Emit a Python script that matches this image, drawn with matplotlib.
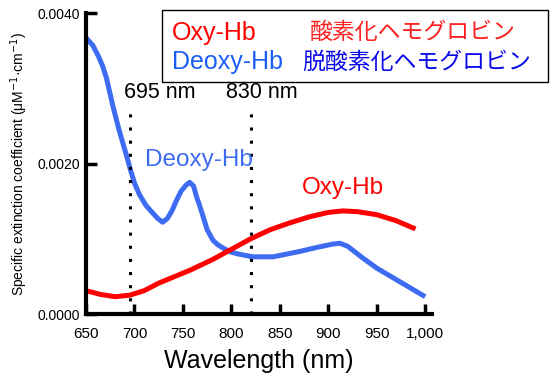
import matplotlib
matplotlib.use('Agg')
import matplotlib.pyplot as plt
from matplotlib.patches import Rectangle
from matplotlib.ticker import FuncFormatter

plt.rcParams['font.family'] = ['Liberation Sans', 'Noto Sans CJK JP', 'DejaVu Sans']

# Deoxy-Hb spectrum
deoxy_nm = [650, 657, 663, 667, 671, 678, 684, 691, 696, 700, 705, 712, 719,
            724, 729, 734, 739, 743, 748, 753, 757, 761, 764, 767, 770, 775,
            781, 786, 791, 798, 806, 822, 843, 870, 890, 905, 912, 920, 935,
            950, 975, 1000]
deoxy_val = [0.00367, 0.00357, 0.00342, 0.00330, 0.00314, 0.00275, 0.00245,
             0.00214, 0.00191, 0.00174, 0.00159, 0.00144, 0.00134, 0.00127,
             0.00122, 0.00127, 0.00138, 0.00150, 0.00163, 0.00171, 0.00175,
             0.00170, 0.00156, 0.00145, 0.00133, 0.00112, 0.00098, 0.00092,
             0.00088, 0.00083, 0.00080, 0.00076, 0.00076, 0.00083, 0.00089,
             0.00093, 0.00094, 0.00090, 0.00075, 0.00061, 0.00042, 0.00023]

# Oxy-Hb spectrum
oxy_nm = [650, 665, 680, 695, 710, 725, 740, 757, 780, 800, 820, 840, 860,
          880, 900, 915, 930, 950, 970, 990]
oxy_val = [0.00031, 0.00026, 0.00023, 0.00025, 0.00031, 0.00041, 0.00049,
           0.00058, 0.00072, 0.00086, 0.00100, 0.00112, 0.00121, 0.00129,
           0.00135, 0.00137, 0.00136, 0.00132, 0.00124, 0.00113]

markers_nm = [695, 820]
marker_labels = ['695 nm', '830 nm']
marker_label_x = [689, 794]
xticks = [650, 700, 750, 800, 850, 900, 950, 1000]
yticks = [0.0, 0.002, 0.004]

RED = '#ff0000'
BLUE = '#3d6cf2'

fig = plt.figure(figsize=(5.5, 3.78), dpi=100)
ax = fig.add_axes([0.1564, 0.1693, 0.629, 0.7963])

ax.plot(deoxy_nm, deoxy_val, color=BLUE, lw=3.6, solid_capstyle='butt',
        solid_joinstyle='round')
ax.plot(oxy_nm, oxy_val, color=RED, lw=3.6, solid_capstyle='butt',
        solid_joinstyle='round')

for x, lx, lab in zip(markers_nm, marker_label_x, marker_labels):
    ax.plot([x, x], [0, 0.00274], color='black', lw=2.2,
            linestyle=(0, (1, 3.3)))
    ax.text(lx, 0.00294, lab, ha='left', va='center', fontsize=15.5)

ax.text(711, 0.00205, 'Deoxy-Hb', color=BLUE, fontsize=17.5, va='center')
ax.text(873, 0.00167, 'Oxy-Hb', color=RED, fontsize=17.5, va='center')

ax.set_xlim(650, 1007)
ax.set_ylim(0, 0.004)
ax.set_xticks(xticks)
ax.set_yticks(yticks)
ax.xaxis.set_major_formatter(FuncFormatter(lambda v, p: f'{v:,.0f}'))
ax.yaxis.set_major_formatter(FuncFormatter(lambda v, p: f'{v:.4f}'))
ax.tick_params(axis='x', direction='in', length=7, width=2.5, labelsize=11, pad=9)
ax.tick_params(axis='y', direction='in', length=8, width=2.5, labelsize=10, pad=4)
for s in ['top', 'right']:
    ax.spines[s].set_visible(False)
for s in ['left', 'bottom']:
    ax.spines[s].set_linewidth(3)

ax.set_xlabel('Wavelength (nm)', fontsize=18, labelpad=6)
ax.set_ylabel('Specific extinction coefficient (μM$^{-1}$·cm$^{-1}$)', fontsize=10,
              labelpad=6)

# legend box drawn by hand
fig.patches.append(Rectangle((0.2945, 0.783), 0.702, 0.1905, transform=fig.transFigure,
                             fill=False, edgecolor='black', lw=1))
fig.text(0.3127, 0.913, 'Oxy-Hb', color=RED, fontsize=18, va='center')
fig.text(0.5636, 0.915, '酸素化ヘモグロビン', color='#ff2020', fontsize=16.5, va='center')
fig.text(0.3127, 0.836, 'Deoxy-Hb', color='#1a5ef5', fontsize=18, va='center')
fig.text(0.549, 0.836, '脱酸素化ヘモグロビン', color='#0a0ae8', fontsize=16.5, va='center')

fig.savefig('out.png', dpi=100)
